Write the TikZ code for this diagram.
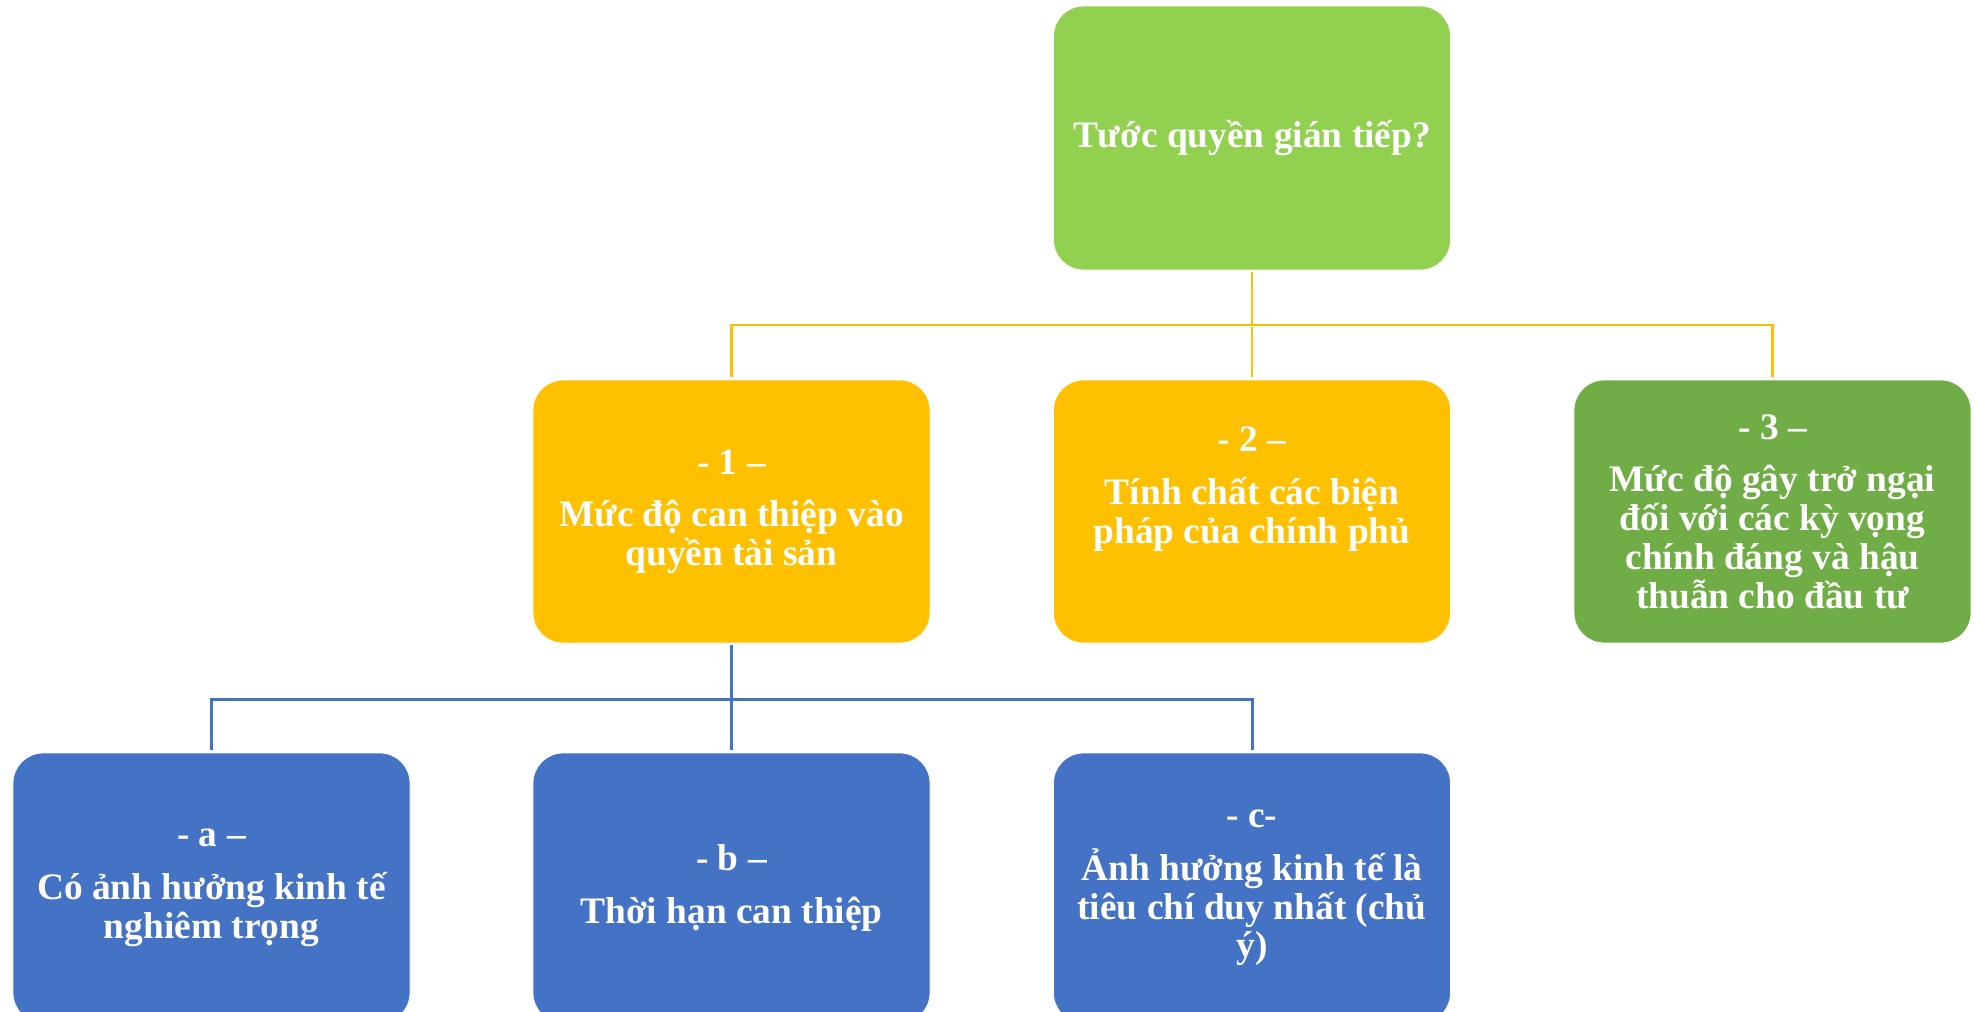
\documentclass[tikz,border=0pt]{standalone}
\usepackage{fontspec}
\setmainfont{Liberation Serif}
\definecolor{toplime}{HTML}{92D050}
\definecolor{midgold}{HTML}{FFC000}
\definecolor{sidegreen}{HTML}{70AD47}
\definecolor{lowblue}{HTML}{4472C4}
\tikzset{
  box/.style={rectangle, rounded corners=15pt, draw=white, line width=0.4pt,
    minimum width=198.5pt, inner sep=0pt, align=center, text=white,
    font=\bfseries\fontsize{18.7}{19.4}\selectfont},
  goldline/.style={midgold, line width=1.3pt},
  blueline/.style={lowblue, line width=1.5pt}
}

\begin{document}
\begin{tikzpicture}[x=0.5pt,y=-0.5pt]
        \useasboundingbox (0,0) rectangle (1977,1012);
        \clip (0,0) rectangle (1977,1012);
        % boxes
        \node[box, fill=toplime, minimum height=132pt] (top) at (1252,138) {Tước quyền gián tiếp?};
        \node[box, fill=midgold, minimum height=131.5pt] (one) at (731.5,511.5)
            {- 1 –\\[7pt] Mức độ can thiệp vào\\ quyền tài sản};
        \node[box, fill=midgold, minimum height=131.5pt] (two) at (1252,511.5)
            {- 2 –\\[7pt] Tính chất các biện\\ pháp của chính phủ\\[7pt] \mbox{}};
        \node[box, fill=sidegreen, minimum height=131.5pt] (three) at (1772.5,511.5)
            {- 3 –\\[7pt] Mức độ gây trở ngại\\ đối với các kỳ vọng\\ chính đáng và hậu\\ thuẫn cho đầu tư};
        \node[box, fill=lowblue, minimum height=135pt] (a) at (211.5,888)
            {- a –\\[7pt] Có ảnh hưởng kinh tế\\ nghiêm trọng};
        \node[box, fill=lowblue, minimum height=135pt] (b) at (731.5,888)
            {- b –\\[7pt] Thời hạn can thiệp};
        \node[box, fill=lowblue, minimum height=135pt] (c) at (1252,888)
            {- c-\\[7pt] Ảnh hưởng kinh tế là\\ tiêu chí duy nhất (chủ\\ ý)};
        % connectors
        \coordinate (hub) at (1252,325);
        \coordinate (subhub) at (731.5,699);
        \draw[goldline, shorten <=1pt] (top.south) -- (hub);
        \draw[goldline, shorten <=1pt, shorten >=1.5pt] (hub) -- (two.north);
        \draw[goldline, shorten >=1.5pt] (hub) -| (one.north);
        \draw[goldline, shorten >=1.5pt] (hub) -| (three.north);
        \draw[blueline, shorten <=1pt] (one.south) -- (subhub);
        \draw[blueline, shorten >=1.5pt] (subhub) -- (b.north);
        \draw[blueline, shorten >=1.5pt] (subhub) -| (a.north);
        \draw[blueline, shorten >=1.5pt] (subhub) -| (c.north);
    \end{tikzpicture}
\end{document}
